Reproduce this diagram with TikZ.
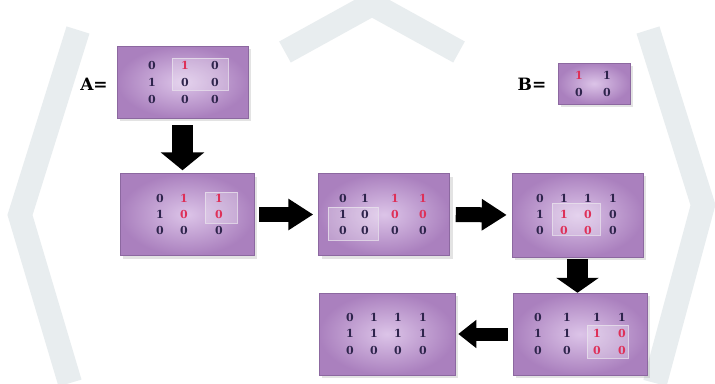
\documentclass[tikz,border=0pt]{standalone}
\usepackage{fontspec}
\newfontfamily\digitfont{DejaVu Serif}
\usetikzlibrary{arrows.meta,shadows}
\definecolor{wmark}{RGB}{232,237,239}
\definecolor{boxin}{RGB}{220,196,232}
\definecolor{boxout}{RGB}{170,128,190}
\definecolor{boxedge}{RGB}{140,104,160}
\definecolor{digdark}{RGB}{46,36,76}
\definecolor{digred}{RGB}{222,48,88}
\tikzset{
  mbox/.style={rectangle, inner color=boxin, outer color=boxout, draw=boxedge,
    line width=0.5pt, drop shadow={shadow xshift=3pt, shadow yshift=-3pt, opacity=0.22}},
  window/.style={draw=white!80!boxedge, line width=0.7pt, fill=white, fill opacity=0.25, draw opacity=0.8},
  dig/.style={font=\digitfont\fontsize{11}{13}\selectfont\bfseries, inner sep=0pt},
  eqlabel/.style={font=\digitfont\fontsize{17}{20}\selectfont\bfseries, inner sep=0pt},
  bigarrow/.style={draw=black, line width=#1},
}
\begin{document}
\begin{tikzpicture}[x=1pt,y=-1pt]
\useasboundingbox (0,0) rectangle (715,383);
\fill[white] (0,0) rectangle (715,383);

% faint watermark bands behind the figure
\begin{scope}[draw=wmark, line width=24pt, line join=miter]
  \draw (285,52) -- (372,4) -- (459,52);
  \draw (78,30) -- (20,215) -- (70,383);
  \draw (648,30) -- (703,205) -- (655,383);
\end{scope}

% labels
\node[eqlabel] (labA) at (94,84) {A=};
\node[eqlabel] (labB) at (532,84) {B=};

% matrix boxes
\node[mbox, minimum width=131pt, minimum height=72pt] (A)  at (182.5,82) {};
\node[mbox, minimum width=72pt,  minimum height=41pt] (B)  at (594,83.5) {};
\node[mbox, minimum width=134pt, minimum height=82pt] (s1) at (187,214.5) {};
\node[mbox, minimum width=131pt, minimum height=82pt] (s2) at (384,214.5) {};
\node[mbox, minimum width=131pt, minimum height=84pt] (s3) at (577.5,215) {};
\node[mbox, minimum width=136pt, minimum height=82pt] (s4) at (387,334) {};
\node[mbox, minimum width=134pt, minimum height=82pt] (s5) at (580,334) {};

% sliding windows
\node[window, minimum width=56pt, minimum height=32pt] (wA)  at (200,74) {};
\node[window, minimum width=32pt, minimum height=31pt] (w1)  at (221,207.5) {};
\node[window, minimum width=50pt, minimum height=33pt] (w2)  at (353,223.5) {};
\node[window, minimum width=48pt, minimum height=32pt] (w3)  at (576,219) {};
\node[window, minimum width=41pt, minimum height=33pt] (w5)  at (607.5,341.5) {};

% entries: x / y / value / colour
\foreach \x/\y/\v/\c [count=\i] in {
  152/65/0/digdark, 185/65/1/digred, 215/65/0/digdark,
  152/82/1/digdark, 185/82/0/digdark, 215/82/0/digdark,
  152/99/0/digdark, 185/99/0/digdark, 215/99/0/digdark}
  \node[dig, text=\c] (A-\i) at (\x,\y) {\v};

\foreach \x/\y/\v/\c [count=\i] in {
  579/75/1/digred, 607/75/1/digdark,
  579/92/0/digdark, 607/92/0/digdark}
  \node[dig, text=\c] (B-\i) at (\x,\y) {\v};

\foreach \x/\y/\v/\c [count=\i] in {
  160/198/0/digdark, 184/198/1/digred, 219/198/1/digred,
  160/214/1/digdark, 184/214/0/digred, 219/214/0/digred,
  160/230/0/digdark, 184/230/0/digdark, 219/230/0/digdark}
  \node[dig, text=\c] (s1-\i) at (\x,\y) {\v};

\foreach \x/\y/\v/\c [count=\i] in {
  343/198/0/digdark, 365/198/1/digdark, 395/198/1/digred, 423/198/1/digred,
  343/214/1/digdark, 365/214/0/digdark, 395/214/0/digred, 423/214/0/digred,
  343/230/0/digdark, 365/230/0/digdark, 395/230/0/digdark, 423/230/0/digdark}
  \node[dig, text=\c] (s2-\i) at (\x,\y) {\v};

\foreach \x/\y/\v/\c [count=\i] in {
  540/198/0/digdark, 564/198/1/digdark, 588/198/1/digdark, 613/198/1/digdark,
  540/214/1/digdark, 564/214/1/digred, 588/214/0/digred, 613/214/0/digdark,
  540/230/0/digdark, 564/230/0/digred, 588/230/0/digred, 613/230/0/digdark}
  \node[dig, text=\c] (s3-\i) at (\x,\y) {\v};

\foreach \x/\y/\v/\c [count=\i] in {
  350/317/0/digdark, 374/317/1/digdark, 398/317/1/digdark, 423/317/1/digdark,
  350/333/1/digdark, 374/333/1/digdark, 398/333/1/digdark, 423/333/1/digdark,
  350/350/0/digdark, 374/350/0/digdark, 398/350/0/digdark, 423/350/0/digdark}
  \node[dig, text=\c] (s4-\i) at (\x,\y) {\v};

\foreach \x/\y/\v/\c [count=\i] in {
  538/317/0/digdark, 567/317/1/digdark, 597/317/1/digdark, 622/317/1/digdark,
  538/333/1/digdark, 567/333/1/digdark, 597/333/1/digred, 622/333/0/digred,
  538/350/0/digdark, 567/350/0/digdark, 597/350/0/digred, 622/350/0/digred}
  \node[dig, text=\c] (s5-\i) at (\x,\y) {\v};

% block arrows between the steps
\draw[bigarrow=21pt, -{Triangle[length=18pt,width=43pt]}, shorten <=7pt, shorten >=3pt]
  (A.south) -- (A.south |- s1.north);
\draw[bigarrow=15pt, -{Triangle[length=25pt,width=30pt]}, shorten <=5pt, shorten >=5pt]
  (s1.east) -- (s2.west);
\draw[bigarrow=15pt, -{Triangle[length=25pt,width=30pt]}, shorten <=6pt, shorten >=5pt]
  (s2.east) -- (s3.west);
\draw[bigarrow=21pt, -{Triangle[length=15pt,width=42pt]}, shorten <=2pt, shorten >=0pt]
  (s3.south) -- (s3.south |- s5.north);
\draw[bigarrow=13pt, -{Triangle[length=18pt,width=27pt]}, shorten <=5pt, shorten >=3pt]
  (s5.west) -- (s4.east);
\end{tikzpicture}
\end{document}
